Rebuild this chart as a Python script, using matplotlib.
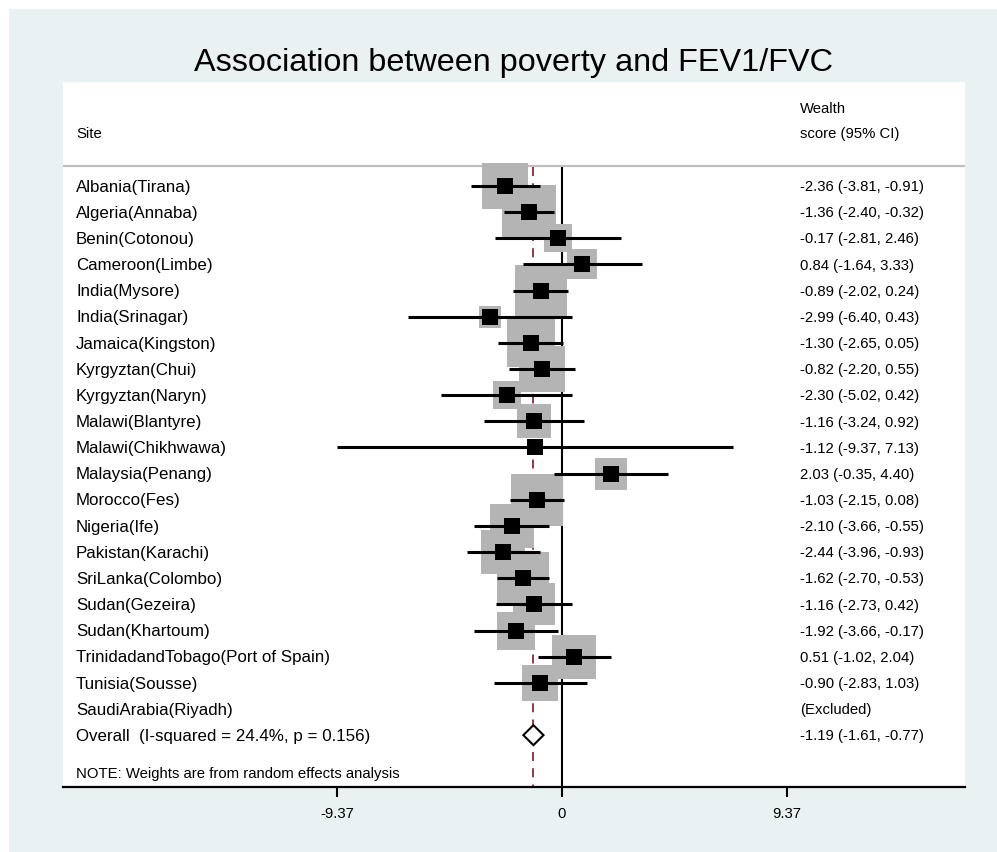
import matplotlib
matplotlib.use("Agg")
import matplotlib.pyplot as plt
import matplotlib.transforms as mtransforms
from matplotlib.patches import Rectangle, Polygon
import numpy as np

plt.rcParams['font.family'] = ['Liberation Sans', 'DejaVu Sans']

# ---------------- data ----------------
sites = ["Albania(Tirana)", "Algeria(Annaba)", "Benin(Cotonou)", "Cameroon(Limbe)",
         "India(Mysore)", "India(Srinagar)", "Jamaica(Kingston)", "Kyrgyztan(Chui)",
         "Kyrgyztan(Naryn)", "Malawi(Blantyre)", "Malawi(Chikhwawa)", "Malaysia(Penang)",
         "Morocco(Fes)", "Nigeria(Ife)", "Pakistan(Karachi)", "SriLanka(Colombo)",
         "Sudan(Gezeira)", "Sudan(Khartoum)", "TrinidadandTobago(Port of Spain)",
         "Tunisia(Sousse)"]
est = [-2.36, -1.36, -0.17, 0.84, -0.89, -2.99, -1.30, -0.82, -2.30, -1.16,
       -1.12, 2.03, -1.03, -2.10, -2.44, -1.62, -1.16, -1.92, 0.51, -0.90]
lo = [-3.81, -2.40, -2.81, -1.64, -2.02, -6.40, -2.65, -2.20, -5.02, -3.24,
      -9.37, -0.35, -2.15, -3.66, -3.96, -2.70, -2.73, -3.66, -1.02, -2.83]
hi = [-0.91, -0.32, 2.46, 3.33, 0.24, 0.43, 0.05, 0.55, 0.42, 0.92,
      7.13, 4.40, 0.08, -0.55, -0.93, -0.53, 0.42, -0.17, 2.04, 1.03]
# percentage weights (random effects)
weights = [6.10, 9.11, 2.53, 2.71, 8.15, 1.59, 6.66, 6.38, 2.36, 3.48,
           0.59, 2.90, 8.46, 5.57, 5.57, 8.46, 5.31, 4.58, 5.57, 3.90]
excluded_site = "SaudiArabia(Riyadh)"
overall_label = "Overall  (I-squared = 24.4%, p = 0.156)"
overall_est, overall_lo, overall_hi = -1.19, -1.61, -0.77
xticks = [-9.37, 0, 9.37]
xtick_labels = ["-9.37", "0", "9.37"]
title = "Association between poverty and FEV1/FVC"
note = "NOTE: Weights are from random effects analysis"

# ---------------- figure ----------------
W, H = 997, 852
fig = plt.figure(figsize=(W / 100, H / 100), dpi=100, facecolor="white")

def fx(px):
    return px / W

def fy(py):
    return 1 - py / H

# light bluish background
fig.patches.append(Rectangle((fx(9), 0), 1 - fx(9), fy(9), transform=fig.transFigure,
                             facecolor="#E9F1F2", edgecolor="none", zorder=-10))

left, right, top, bottom = 63, 965, 82, 787
ax = fig.add_axes([fx(left), fy(bottom), fx(right - left), (bottom - top) / H])
ax.set_zorder(5)
ax.set_facecolor("white")

ppu = 225 / 9.37           # pixels per unit
x0 = 562                   # pixel of zero
ax.set_xlim((left - x0) / ppu, (right - x0) / ppu)
row0, rowh = 186, 26.15
ax.set_ylim((bottom - row0) / rowh, (top - row0) / rowh)

def ry(py):
    return (py - row0) / rowh

n = len(sites)
ys = np.arange(n)
y_excl = n
y_over = n + 1
toff = 1.2 / rowh   # small downward text offset

# header line
ax.axhline(ry(166), color="#BEBEBE", lw=1.6, zorder=1)

# zero line and overall dashed line
ax.plot([0, 0], [ry(167), ax.get_ylim()[0]], color="black", lw=1.5, zorder=2,
        solid_capstyle="butt")
ax.plot([overall_est, overall_est], [ry(167), ax.get_ylim()[0]], color="#8E2A36",
        lw=1.3, dashes=(5, 4), zorder=2)

# weight boxes
k = 18.22  # px side per sqrt(weight)
for yi, e, w in zip(ys, est, weights):
    side_pt = k * np.sqrt(w) * 0.72
    ax.plot([e], [yi], marker="s", markersize=side_pt, color="#B4B4B4",
            markeredgewidth=0, linestyle="none", zorder=3)

# CI whiskers and point markers
for yi, e, l, h in zip(ys, est, lo, hi):
    ax.plot([l, h], [yi, yi], color="black", lw=2.2, solid_capstyle="butt", zorder=4)
    ax.plot([e], [yi], marker="s", markersize=11.5, color="black",
            markeredgewidth=0, linestyle="none", zorder=5)

# overall diamond
dh = 10 / rowh
ax.add_patch(Polygon([(overall_lo, y_over), (overall_est, y_over - dh),
                      (overall_hi, y_over), (overall_est, y_over + dh)],
                     closed=True, facecolor="white", edgecolor="black", lw=1.5, zorder=6))

# texts
tr = mtransforms.blended_transform_factory(ax.transAxes, ax.transData)
xl = (76 - left) / (right - left)
xr = (800 - left) / (right - left)
fs_left = 12.2
fs_right = 10.7

ax.text(xl, ry(133) + toff, "Site", transform=tr, fontsize=fs_right, va="center", ha="left")
ax.text(xr, ry(108) + toff, "Wealth", transform=tr, fontsize=fs_right, va="center", ha="left")
ax.text(xr, ry(133) + toff, "score (95% CI)", transform=tr, fontsize=fs_right,
        va="center", ha="left")

for yi, s, e, l, h in zip(ys, sites, est, lo, hi):
    ax.text(xl, yi + toff, s, transform=tr, fontsize=fs_left, va="center", ha="left")
    ax.text(xr, yi + toff, f"{e:.2f} ({l:.2f}, {h:.2f})", transform=tr, fontsize=fs_right,
            va="center", ha="left")
ax.text(xl, y_excl + toff, excluded_site, transform=tr, fontsize=fs_left, va="center", ha="left")
ax.text(xr, y_excl + toff, "(Excluded)", transform=tr, fontsize=fs_right, va="center", ha="left")
ax.text(xl, y_over + toff, overall_label, transform=tr, fontsize=fs_left, va="center", ha="left")
ax.text(xr, y_over + toff, f"{overall_est:.2f} ({overall_lo:.2f}, {overall_hi:.2f})",
        transform=tr, fontsize=fs_right, va="center", ha="left")
ax.text(xl, ry(773) + toff, note, transform=tr, fontsize=fs_right, va="center", ha="left")

# axes styling
for sp in ["top", "left", "right"]:
    ax.spines[sp].set_visible(False)
ax.spines["bottom"].set_linewidth(1.6)
ax.spines["bottom"].set_zorder(7)
ax.set_yticks([])
ax.set_xticks(xticks)
ax.set_xticklabels(xtick_labels)
ax.tick_params(axis="x", length=7.5, width=1.5, labelsize=fs_right, pad=7)

fig.text(fx(513), fy(62.5), title, fontsize=23.3, ha="center", va="center")

fig.savefig("out.png", dpi=100, facecolor=fig.get_facecolor())
